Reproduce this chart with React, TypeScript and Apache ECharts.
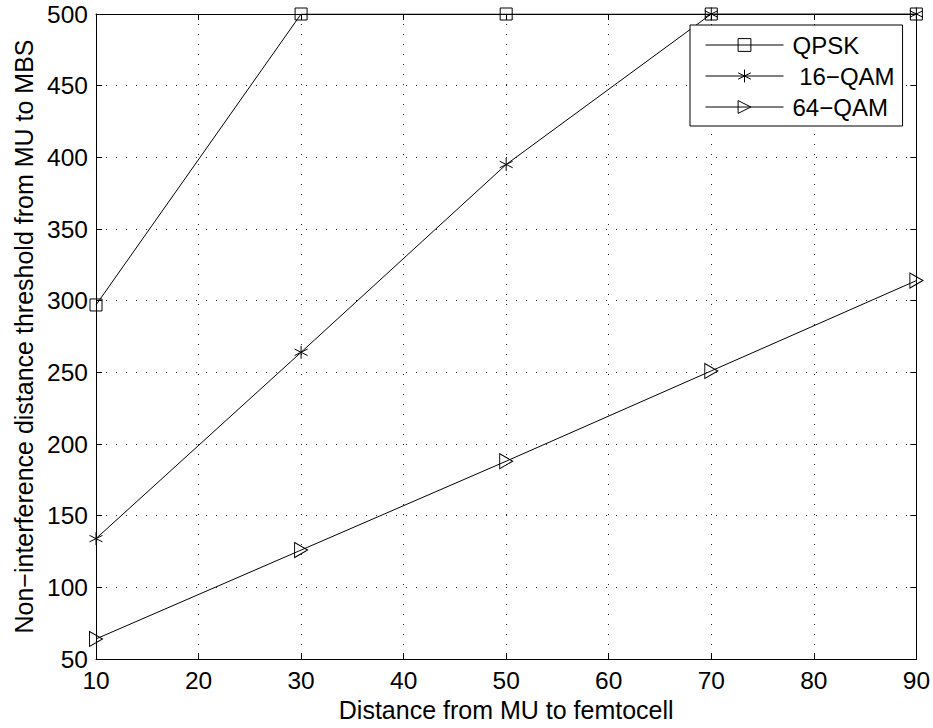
import React, { useEffect, useRef } from "react";
import * as echarts from "echarts";

const xValues = [10, 30, 50, 70, 90];
const qpsk = [297, 500, 500, 500, 500];
const qam16 = [134, 264, 395, 500, 500];
const qam64 = [64, 126, 188, 251, 314];
const seriesNames = ["QPSK", " 16\u2212QAM", "64\u2212QAM"];

const FONT = "'Liberation Sans', Arial, Helvetica, sans-serif";
const asterisk =
  "path://M5,0L5,10M0.67,2.5L9.33,7.5M0.67,7.5L9.33,2.5";
const triRight = "path://M0,0L10,5L0,10Z";

export default function App() {
  const ref = useRef<HTMLDivElement>(null);
  useEffect(() => {
    const chart = echarts.init(ref.current!, null, { renderer: "svg" });
    const mk = (vals: number[]) => xValues.map((x, i) => [x, vals[i]]);
    const base = {
      type: "line",
      lineStyle: { color: "#000", width: 1 },
      itemStyle: { color: "none", borderColor: "#000", borderWidth: 1 },
      showAllSymbol: true,
      z: 3,
    };
    const axisCommon = {
      axisLine: { lineStyle: { color: "#000", width: 1 } },
      axisTick: { inside: true, length: 6, lineStyle: { color: "#000" } },
    };
    const gridLine = { show: true, lineStyle: { color: "#222", type: [1, 9], width: 1 } };
    chart.setOption({
      animation: false,
      backgroundColor: "#fff",
      grid: { left: 96, top: 14, right: 16, bottom: 69, containLabel: false },
      legend: {
        orient: "vertical",
        left: 690,
        top: 25,
        padding: [8, 8, 7, 15],
        itemWidth: 78,
        itemHeight: 16,
        itemGap: 7,
        borderColor: "#000",
        borderWidth: 1,
        backgroundColor: "#fff",
        itemStyle: { color: "none", borderColor: "#000", borderWidth: 1 },
        lineStyle: { color: "#000", width: 1 },
        textStyle: { fontFamily: FONT, fontSize: 24, color: "#000", padding: [0, 0, 0, 4] },
        data: seriesNames,
      },
      xAxis: [
        {
          type: "value",
          min: 10,
          max: 90,
          interval: 10,
          ...axisCommon,
          axisLabel: { color: "#000", fontFamily: FONT, fontSize: 24.5, margin: 9 },
          splitLine: gridLine,
          name: "Distance from MU to femtocell",
          nameLocation: "middle",
          nameGap: 37,
          nameTextStyle: { color: "#000", fontFamily: FONT, fontSize: 25 },
        },
        {
          type: "value",
          position: "top",
          min: 10,
          max: 90,
          interval: 10,
          ...axisCommon,
          axisLabel: { show: false },
          splitLine: { show: false },
        },
      ],
      yAxis: [
        {
          type: "value",
          min: 50,
          max: 500,
          interval: 50,
          ...axisCommon,
          axisLabel: { color: "#000", fontFamily: FONT, fontSize: 24.5, margin: 8 },
          splitLine: gridLine,
          name: "Non\u2212interference distance threshold from MU to MBS",
          nameLocation: "middle",
          nameGap: 60,
          nameTextStyle: { color: "#000", fontFamily: FONT, fontSize: 25 },
        },
        {
          type: "value",
          position: "right",
          min: 50,
          max: 500,
          interval: 50,
          ...axisCommon,
          axisLabel: { show: false },
          splitLine: { show: false },
        },
      ],
      series: [
        { ...base, name: seriesNames[0], data: mk(qpsk), symbol: "rect", symbolSize: 12 },
        { ...base, name: seriesNames[1], data: mk(qam16), symbol: asterisk, symbolSize: 13 },
        { ...base, name: seriesNames[2], data: mk(qam64), symbol: triRight, symbolSize: [13, 15] },
      ],
    });
    return () => chart.dispose();
  }, []);
  return (
    <div
      ref={ref}
      style={{ position: "fixed", left: 0, top: 0, width: 933, height: 728 }}
    />
  );
}
